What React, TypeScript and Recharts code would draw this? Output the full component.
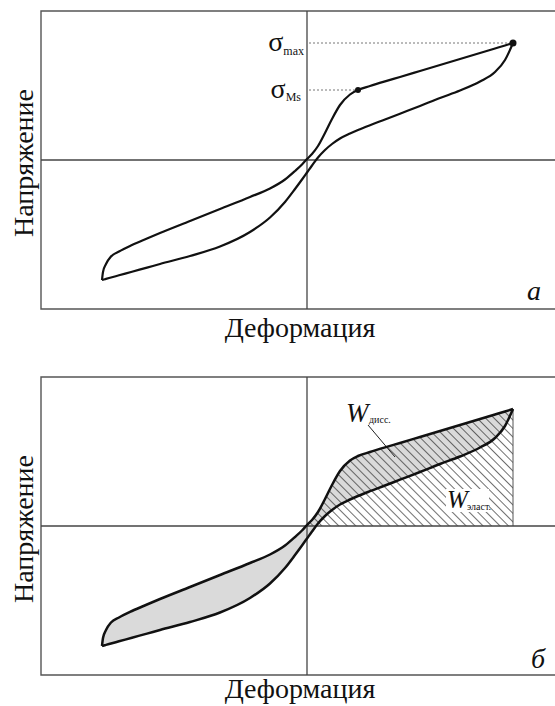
import React from 'react';
import {
  ComposedChart,
  Line,
  Area,
  XAxis,
  YAxis,
  ReferenceLine,
  ReferenceDot,
  ReferenceArea,
} from 'recharts';

// strain positions (relative units, origin at the axes cross)
const strain = [
  -205, -204, -201, -196, -188, -175, -160, -147, -117, -87, -57, -37, -22,
  -12, -5, 0, 5, 11, 18, 25, 33, 43, 51, 63, 78, 93, 113, 133, 153, 173, 188,
  198, 206,
];
// upper branch of the loop (forward transformation)
const upperBranch = [
  -120, -112, -104, -96.5, -91.5, -85, -78.5, -73, -61, -49, -37, -28.5,
  -19.5, -11, -4.5, 1, 6, 14, 27, 41, 55, 65.5, 70, 74, 78.6, 83, 89, 95, 101,
  107, 111.5, 114.5, 117,
];
// lower branch of the loop (reverse transformation)
const lowerBranch = [
  -120, -119.7, -118.9, -117.5, -115.3, -111.7, -107.6, -104, -96, -86.5, -72,
  -57.5, -42, -29, -19.5, -12.5, -5.5, 2.5, 10, 16, 21.5, 26.5, 30, 34.8, 40.5,
  46.3, 54, 62, 69.5, 78.5, 88, 100, 117,
];

const sigmaMax = { x: 206, y: 117 };
const sigmaMs = { x: 51, y: 70 };

const X_DOMAIN = [-266, 263];
const Y_DOMAIN = [-149, 149];

const loopData = strain.map((x, i) => ({
  x,
  upper: upperBranch[i],
  lower: lowerBranch[i],
  loop: [lowerBranch[i], upperBranch[i]],
  elastic: x >= 0 ? [0, upperBranch[i]] : null,
}));

const SERIF = "'Liberation Serif', 'DejaVu Serif', serif";

function Panel({ energy }: { energy: boolean }) {
  const curveWidth = energy ? 2.5 : 2.2;
  return (
    <ComposedChart
      width={600}
      height={330}
      data={loopData}
      margin={{ top: 11, right: 30, bottom: 21, left: 41 }}
    >
      <defs>
        <pattern
          id="hatch"
          width="6"
          height="6"
          patternUnits="userSpaceOnUse"
          patternTransform="rotate(-45)"
        >
          <line x1="0" y1="0" x2="0" y2="6" stroke="#222" strokeWidth="1.3" />
        </pattern>
      </defs>
      <XAxis type="number" dataKey="x" domain={X_DOMAIN} hide allowDataOverflow />
      <YAxis type="number" domain={Y_DOMAIN} hide allowDataOverflow />
      <ReferenceArea
        x1={X_DOMAIN[0]}
        x2={X_DOMAIN[1]}
        y1={Y_DOMAIN[0]}
        y2={Y_DOMAIN[1]}
        fill="none"
        stroke="#555"
        strokeWidth={1.4}
      />
      {energy && (
        <Area
          dataKey="loop"
          type="monotone"
          fill="#dadada"
          fillOpacity={1}
          stroke="none"
          isAnimationActive={false}
        />
      )}
      {energy && (
        <Area
          dataKey="elastic"
          type="monotone"
          fill="url(#hatch)"
          fillOpacity={1}
          stroke="none"
          isAnimationActive={false}
        />
      )}
      {energy && (
        <ReferenceLine
          segment={[
            { x: sigmaMax.x, y: 0 },
            { x: sigmaMax.x, y: sigmaMax.y },
          ]}
          stroke="#555"
          strokeWidth={1}
        />
      )}
      <ReferenceLine x={0} stroke="#444" strokeWidth={1.3} />
      <ReferenceLine y={0} stroke="#444" strokeWidth={1.3} />
      {!energy && (
        <ReferenceLine
          segment={[
            { x: 2, y: sigmaMax.y },
            { x: sigmaMax.x, y: sigmaMax.y },
          ]}
          stroke="#777"
          strokeDasharray="2 2"
          strokeWidth={1}
        />
      )}
      {!energy && (
        <ReferenceLine
          segment={[
            { x: 2, y: sigmaMs.y },
            { x: sigmaMs.x, y: sigmaMs.y },
          ]}
          stroke="#777"
          strokeDasharray="2 2"
          strokeWidth={1}
        />
      )}
      {energy && (
        <ReferenceLine
          segment={[
            { x: 61, y: 101 },
            { x: 88, y: 69 },
          ]}
          stroke="#222"
          strokeWidth={1}
        />
      )}
      <Line
        dataKey="upper"
        type="monotone"
        stroke="#111"
        strokeWidth={curveWidth}
        dot={false}
        isAnimationActive={false}
      />
      <Line
        dataKey="lower"
        type="monotone"
        stroke="#111"
        strokeWidth={curveWidth}
        dot={false}
        isAnimationActive={false}
      />
      {!energy && (
        <ReferenceDot x={sigmaMax.x} y={sigmaMax.y} r={3.5} fill="#111" stroke="none" />
      )}
      {!energy && (
        <ReferenceDot x={sigmaMs.x} y={sigmaMs.y} r={3} fill="#111" stroke="none" />
      )}
    </ComposedChart>
  );
}

export default function App() {
  return (
    <div
      style={{
        position: 'absolute',
        left: 0,
        top: 0,
        width: 555,
        height: 706,
        overflow: 'hidden',
        background: '#fff',
      }}
    >
      <div style={{ position: 'absolute', left: 0, top: 0 }}>
        <Panel energy={false} />
      </div>
      <div style={{ position: 'absolute', left: 0, top: 366 }}>
        <Panel energy />
      </div>
      <svg
        width={555}
        height={706}
        style={{
          position: 'absolute',
          left: 0,
          top: 0,
          pointerEvents: 'none',
          fontFamily: SERIF,
          fill: '#111',
        }}
      >
        {/* panel а */}
        <text x={33} y={163} fontSize={28} textAnchor="middle" transform="rotate(-90 33 163)">
          Напряжение
        </text>
        <text x={300} y={337} fontSize={28} textAnchor="middle">
          Деформация
        </text>
        <text x={534} y={300} fontSize={28} fontStyle="italic" textAnchor="middle">
          а
        </text>
        <text x={304} y={51} textAnchor="end">
          <tspan fontSize={28}>σ</tspan>
          <tspan fontSize={12} dy={4}>max</tspan>
        </text>
        <text x={301} y={98} textAnchor="end">
          <tspan fontSize={28}>σ</tspan>
          <tspan fontSize={12} dy={3}>Ms</tspan>
        </text>

        {/* panel б */}
        <text x={33} y={529} fontSize={28} textAnchor="middle" transform="rotate(-90 33 529)">
          Напряжение
        </text>
        <text x={300} y={698} fontSize={28} textAnchor="middle">
          Деформация
        </text>
        <text x={538} y={668} fontSize={28} fontStyle="italic" textAnchor="middle">
          б
        </text>
        <text x={346} y={422} fontSize={27} fontStyle="italic">
          W
        </text>
        <text x={369} y={423} fontSize={10}>
          дисс.
        </text>
        <rect x={446} y={489} width={43} height={23} fill="#fff" />
        <text x={447} y={508} fontSize={25} fontStyle="italic">
          W
        </text>
        <text x={467} y={510} fontSize={10}>
          эласт.
        </text>
      </svg>
    </div>
  );
}
